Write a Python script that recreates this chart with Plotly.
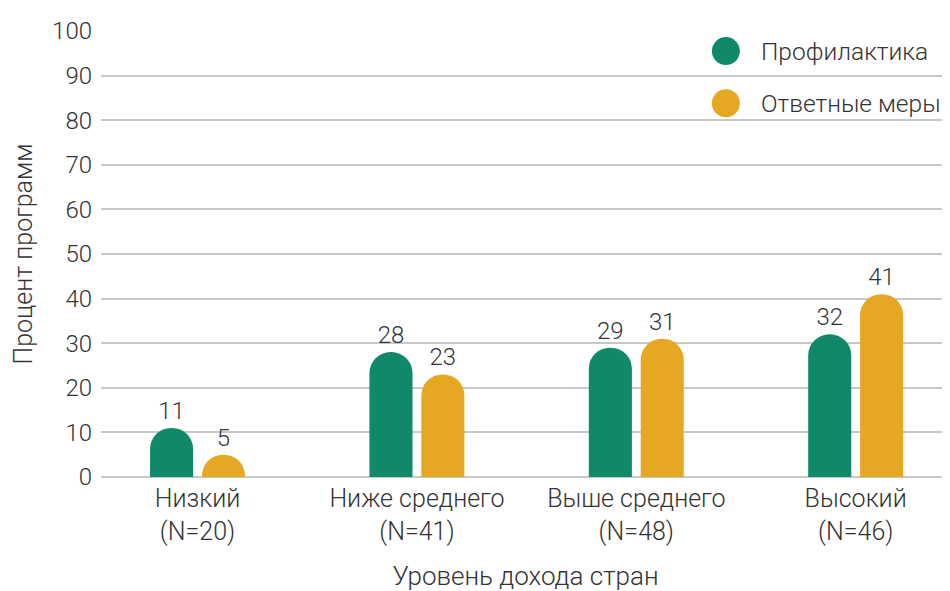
import plotly.graph_objects as go

categories = ["Низкий<br>(N=20)", "Ниже среднего<br>(N=41)", "Выше среднего<br>(N=48)", "Высокий<br>(N=46)"]
prevention = [11, 28, 29, 32]
response = [5, 23, 31, 41]
series_names = ["Профилактика", "Ответные меры"]
colors = ["#10896a", "#e6a823"]
y_ticks = [0, 10, 20, 30, 40, 50, 60, 70, 80, 90, 100]

FONT = "Roboto"
TXT = "#333333"

fig = go.Figure()
for name, vals, col in zip(series_names, [prevention, response], colors):
    fig.add_trace(go.Bar(
        x=categories, y=vals, name=name,
        marker=dict(color=col, cornerradius="50%", line=dict(width=0)),
        text=[str(v) for v in vals], textposition="outside",
        textfont=dict(family=FONT, size=24, color=TXT, weight=300),
        cliponaxis=False, showlegend=False,
    ))

# manual legend with large circle markers
leg_y = [0.955, 0.838]
for name, col, yy in zip(series_names, colors, leg_y):
    fig.add_shape(type="circle", xref="paper", yref="paper",
                  xsizemode="pixel", ysizemode="pixel",
                  xanchor=0.736, yanchor=yy,
                  x0=-14, x1=14, y0=-14, y1=14,
                  fillcolor=col, line=dict(width=0))
    fig.add_annotation(x=0.775, y=yy, xref="paper", yref="paper",
                       text=name, showarrow=False, xanchor="left", yanchor="middle",
                       font=dict(family=FONT, size=24.5, color=TXT, weight=300))

fig.update_layout(
    width=942, height=583,
    margin=dict(l=93, r=0, t=23, b=114),
    paper_bgcolor="white", plot_bgcolor="white",
    barmode="group", bargap=0.527, bargroupgap=0.17,
    font=dict(family=FONT, size=24, color=TXT, weight=300),
    xaxis=dict(range=[-0.44, 3.43], showgrid=False, showline=False, zeroline=False,
               automargin=False, ticklabelstandoff=4,
               tickfont=dict(family=FONT, size=25, color=TXT, weight=300),
               title=dict(text="Уровень дохода стран", standoff=30,
                          font=dict(family=FONT, size=26, color=TXT, weight=300))),
    yaxis=dict(range=[0, 100], tickvals=y_ticks, showgrid=True, gridcolor="#c8c8c8", gridwidth=1.5,
               zeroline=True, zerolinecolor="#c8c8c8", zerolinewidth=1.5, showline=False,
               automargin=False, ticklabelstandoff=8,
               tickfont=dict(family=FONT, size=24, color=TXT, weight=300),
               title=dict(text="Процент программ", standoff=12,
                          font=dict(family=FONT, size=25, color=TXT, weight=300))),
)

fig.write_html("out.html")
